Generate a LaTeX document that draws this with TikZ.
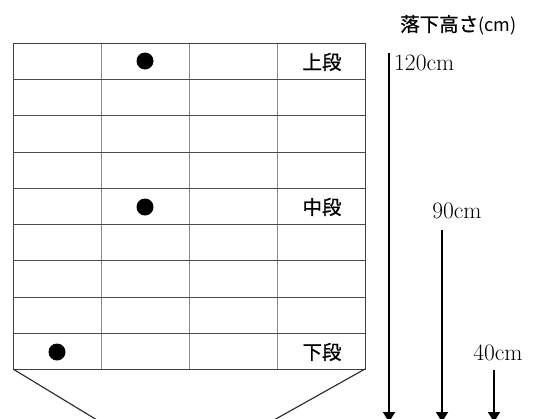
\documentclass[tikz,border=0pt]{standalone}
\usepackage{fontspec}
\newfontfamily\cjk[FakeBold=0.8]{Noto Sans CJK JP}
\newfontfamily\cjkthin{Noto Sans CJK JP}
\usetikzlibrary{arrows.meta}
\begin{document}
\begin{tikzpicture}[x=1pt,y=-1pt,
  outer/.style={draw=black!75,line width=0.9pt},
  inner/.style={draw=black!45,line width=0.9pt},
  hline/.style={draw=black!70,line width=0.9pt},
  ball/.style={circle,fill=black,inner sep=0pt,minimum size=17pt},
  tier/.style={font=\cjk\fontsize{19.5}{22}\selectfont,inner sep=0pt},
  cmlab/.style={font=\fontsize{23.5}{25}\selectfont,inner sep=0pt},
  drop/.style={draw=black,line width=1.8pt,-{Triangle[width=12pt,length=10pt]}}]
\useasboundingbox (0,0) rectangle (535,418);
% grid
\foreach \x in {101,189,277} \draw[inner] (\x,43) -- (\x,369);
\foreach \y in {79,115,152,188,224,260,297,333} \draw[hline] (13,\y) -- (365,\y);
\draw[outer] (13,43) rectangle (365,369);
% funnel
\coordinate (fl) at (13,369);
\coordinate (fr) at (365,369);
\coordinate (fle) at (97,420);
\coordinate (fre) at (274,420);
\draw[draw=black!85,line width=1.1pt] (fl) -- (fle);
\draw[draw=black!85,line width=1.1pt] (fr) -- (fre);
% balls
\node[ball] (b1) at (145,61) {};
\node[ball] (b2) at (145,207) {};
\node[ball] (b3) at (57,352) {};
% tier labels
\node[tier] (t1) at (322,62) {上段};
\node[tier] (t2) at (322,207) {中段};
\node[tier] (t3) at (322,352) {下段};
% heading
\node[font=\cjk\fontsize{19.5}{22}\selectfont,inner sep=0pt,anchor=west] (head) at (400,25) {落下高さ{\cjkthin\fontsize{18}{20}\selectfont(cm)}};
% arrows
\coordinate (a1s) at (389,53);
\coordinate (a1e) at (389,422);
\coordinate (a2s) at (442,230);
\coordinate (a2e) at (442,422);
\coordinate (a3s) at (494,370);
\coordinate (a3e) at (494,422);
\draw[drop] (a1s) -- (a1e);
\draw[drop] (a2s) -- (a2e);
\draw[drop] (a3s) -- (a3e);
% height labels
\node[cmlab,anchor=west] (h1) at (394,63) {120cm};
\node[cmlab] (h2) at (457,211) {90cm};
\node[cmlab] (h3) at (498,353) {40cm};
\end{tikzpicture}
\end{document}
